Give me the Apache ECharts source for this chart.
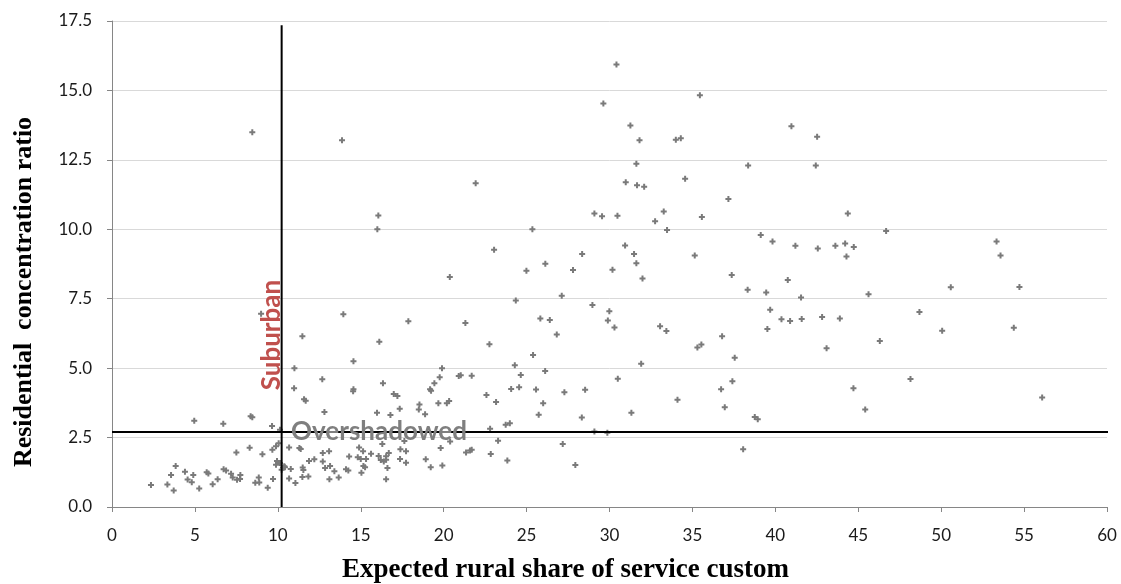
<!DOCTYPE html>
<html>
<head>
<meta charset="utf-8">
<script src="https://cdn.jsdelivr.net/npm/echarts@6/dist/echarts.min.js"></script>
<style>
  html, body { margin: 0; padding: 0; background: #fff; }
  #chart { width: 1121px; height: 584px; }
</style>
</head>
<body>
<div id="chart"></div>
<script>
// 散点数据: [expected rural share, residential concentration ratio]
const highPoints = [
  [8.46,13.49],[13.87,13.21],[21.93,11.66],[16.06,10.50],[16.0,10.0],
  [30.42,15.93],[29.63,14.53],[35.45,14.83],[31.26,13.74],[31.81,13.21],[34.0,13.22],[34.3,13.28],
  [40.97,13.71],[31.62,12.36],[38.36,12.30],[30.98,11.69],[31.66,11.59],[32.09,11.53],[34.56,11.82],
  [29.09,10.57],[29.55,10.47],[30.48,10.49],[33.27,10.64],[32.75,10.29],[35.57,10.44],[37.17,11.09],
  [33.47,9.97],[25.35,10.0],[23.04,9.26],[28.35,9.11],[30.94,9.42],[31.48,9.11],[35.14,9.06],
  [39.12,9.79],[39.83,9.56],[41.21,9.41],[42.52,13.33],[42.44,12.30],[44.37,10.57],[46.68,9.94],
  [42.56,9.31],[43.62,9.41],[44.21,9.49],[44.73,9.36],[44.29,9.02],[53.34,9.56],[53.58,9.06]
];
const midPoints = [
  [24.99,8.51],[26.13,8.76],[27.80,8.53],[30.18,8.54],[31.62,8.78],[31.99,8.23],[37.37,8.35],
  [38.33,7.82],[39.45,7.72],[40.75,8.17],[24.35,7.44],[27.12,7.61],[28.97,7.27],[29.99,7.05],
  [29.90,6.72],[30.30,6.46],[25.83,6.79],[26.40,6.73],[26.82,6.21],[33.05,6.51],[33.43,6.34],
  [39.69,7.10],[40.37,6.76],[40.89,6.70],[39.52,6.41],[36.79,6.15],[35.30,5.74],[35.54,5.85],
  [37.55,5.37],[22.76,5.86],[25.39,5.47],[24.29,5.10],[31.91,5.16],[21.69,4.73],[24.65,4.75],
  [26.12,4.90],[22.58,4.03],[23.16,3.78],[24.07,4.25],[24.55,4.31],[25.57,4.23],[26.0,3.74],
  [27.28,4.13],[28.53,4.22],[30.50,4.62],[34.10,3.86],[36.73,4.24],[37.41,4.53],[36.95,3.59],
  [38.76,3.24],[38.94,3.16],[25.73,3.32],[23.74,2.96],[23.99,3.02],[28.33,3.22],[31.32,3.39],
  [22.80,2.82],[29.09,2.72],[29.87,2.67],[23.28,2.39],[21.69,2.06],[22.84,1.91],[23.84,1.67],
  [27.18,2.27],[27.94,1.51],[38.06,2.08],
  [41.55,7.54],[45.62,7.66],[50.58,7.91],[54.72,7.92],[41.59,6.77],[42.82,6.84],[43.89,6.79],
  [48.69,7.02],[43.09,5.72],[46.30,5.98],[50.06,6.35],[54.38,6.45],[48.15,4.61],[44.71,4.28],
  [45.42,3.51],[56.09,3.94]
];
const leftMidPoints = [
  [20.37,8.28],[8.99,6.96],[13.95,6.94],[17.87,6.69],[21.31,6.63],[11.48,6.15],[16.12,5.95],
  [14.56,5.25],[11.0,5.0],[19.90,5.0],[19.76,4.67],[20.91,4.72],[21.03,4.74],[12.68,4.60],
  [16.34,4.46],[19.44,4.46],[10.98,4.28],[14.56,4.24],[19.18,4.24]
];
const lowLeftPoints = [
  [4.96,3.11],[6.71,3.00],[8.36,3.27],[8.46,3.23],[9.65,2.92],[10.13,2.78],[7.50,1.96],[8.30,2.13],
  [9.07,1.90],[9.67,2.06],[9.89,2.19],[10.05,2.30],[10.68,2.14],[11.30,2.12],[9.95,1.66],[10.13,1.58],
  [9.89,1.52],[10.43,1.43],[10.78,1.37],[10.23,1.34],[3.84,1.48],[3.56,1.15],[4.40,1.27],[4.56,0.99],
  [4.81,0.89],[4.90,1.15],[5.71,1.25],[5.81,1.21],[2.35,0.79],[3.34,0.81],[3.72,0.59],[5.26,0.67],
  [6.07,0.82],[6.37,1.0],[6.73,1.36],[6.88,1.31],[7.18,1.20],[7.28,1.06],[7.54,0.98],[7.72,1.01],
  [7.74,1.15],[8.64,0.87],[8.85,1.06],[8.88,0.88],[9.39,0.69],[9.71,1.01],[10.68,1.03],[11.06,0.86]
];
const lowMidPoints = [
  [14.54,4.17],[11.58,3.88],[11.68,3.83],[12.81,3.42],[16.99,4.07],[17.21,4.0],[15.98,3.39],
  [16.79,3.31],[17.35,3.54],[18.54,3.69],[18.50,3.51],[18.88,3.34],[19.24,4.19],[19.68,3.74],
  [20.19,3.74],[20.33,3.82],[17.63,2.38],[16.30,2.27],[20.39,2.36],[11.38,2.09],[12.71,1.94],
  [13.09,2.01],[11.88,1.66],[12.20,1.72],[12.71,1.64],[12.85,1.40],[13.15,1.48],[10.31,1.42],
  [10.39,1.47],[13.41,1.29],[11.5,1.42],[11.54,1.33],[11.48,1.08],[11.84,1.10],[13.11,1.0],
  [13.67,1.06],[14.11,1.36],[14.25,1.31],[14.30,1.82],[14.90,2.14],[15.14,2.01],[14.82,1.79],
  [15.0,1.73],[15.32,1.73],[15.62,1.92],[15.16,1.48],[15.26,1.43],[15.04,1.23],[16.08,1.84],
  [16.21,1.69],[16.53,1.83],[16.69,1.94],[16.39,1.64],[16.53,1.70],[16.61,1.40],[16.53,1.0],
  [17.39,2.08],[17.73,2.01],[17.37,1.73],[17.73,1.59],[18.92,1.72],[19.22,1.43],[19.82,2.12],
  [19.92,1.49],[21.35,1.96],[21.59,2.03]
];

// 分界线
const suburbanLine = [[10.23, 0], [10.23, 17.35]];
const overshadowedLine = [[0, 2.7], [60.7, 2.7]];
// 标注文字位置
const suburbanLabelPos = [9.65, 6.19];
const overshadowedLabelPos = [16.1, 2.71];

const xTitle = 'Expected rural share of service custom';
const yTitle = 'Residential  concentration ratio';

const allPoints = [].concat(highPoints, midPoints, leftMidPoints, lowLeftPoints, lowMidPoints);

const plusSymbol = 'path://M2,0H4V2H6V4H4V6H2V4H0V2H2Z';
const tickFont = "Lato, 'Open Sans', sans-serif";
const titleFont = "'Liberation Serif', 'Times New Roman', serif";

const myChart = echarts.init(document.getElementById('chart'));
myChart.setOption({
  animation: false,
  backgroundColor: '#fff',
  grid: { left: 112, right: 14, top: 21, bottom: 77, containLabel: false, outerBoundsMode: 'none' },
  xAxis: {
    type: 'value',
    min: 0,
    max: 60,
    interval: 5,
    name: xTitle,
    nameLocation: 'middle',
    nameGap: 50,
    nameTextStyle: {
      fontFamily: titleFont, fontWeight: 'bold', fontSize: 27, color: '#000',
      padding: [0, 88, 0, 0],
    },
    axisLine: { lineStyle: { color: '#868686', width: 1 } },
    axisTick: { show: true, length: 5, lineStyle: { color: '#868686' } },
    axisLabel: { fontFamily: tickFont, fontSize: 17, color: '#1a1a1a', margin: 20 },
    splitLine: { show: false },
  },
  yAxis: {
    type: 'value',
    min: 0,
    max: 17.5,
    interval: 2.5,
    name: yTitle,
    nameLocation: 'middle',
    nameGap: 75,
    nameRotate: 90,
    nameTextStyle: {
      fontFamily: titleFont, fontWeight: 'bold', fontSize: 26, color: '#000',
      padding: [0, 56, 0, 0],
    },
    axisLine: { show: true, lineStyle: { color: '#868686', width: 1 } },
    axisTick: { show: true, length: 5, lineStyle: { color: '#868686' } },
    axisLabel: {
      fontFamily: tickFont, fontSize: 17, color: '#1a1a1a', margin: 20,
      formatter: v => v.toFixed(1),
    },
    splitLine: { lineStyle: { color: '#d9d9d9', width: 1 } },
  },
  series: [
    {
      type: 'scatter',
      data: allPoints,
      symbol: plusSymbol,
      symbolSize: 6,
      itemStyle: { color: '#7a7a7a', opacity: 1 },
      z: 2,
    },
    {
      type: 'line',
      data: suburbanLine,
      symbol: 'none',
      clip: false,
      lineStyle: { color: '#000', width: 2 },
      z: 3,
    },
    {
      type: 'line',
      data: overshadowedLine,
      symbol: 'none',
      clip: false,
      lineStyle: { color: '#000', width: 2 },
      z: 3,
    },
    {
      type: 'scatter',
      symbolSize: 0,
      itemStyle: { opacity: 1 },
      z: 5,
      data: [
        {
          value: suburbanLabelPos,
          label: {
            show: true, formatter: 'Suburban', rotate: 90, position: 'inside',
            fontFamily: 'Lato', fontWeight: 'bold', fontSize: 26, color: '#C0504D',
          },
        },
        {
          value: overshadowedLabelPos,
          label: {
            show: true, formatter: 'Overshadowed', position: 'inside',
            fontFamily: 'Lato', fontWeight: 'bold', fontSize: 26, color: '#7f7f7f',
          },
        },
      ],
    },
  ],
});
</script>
</body>
</html>
